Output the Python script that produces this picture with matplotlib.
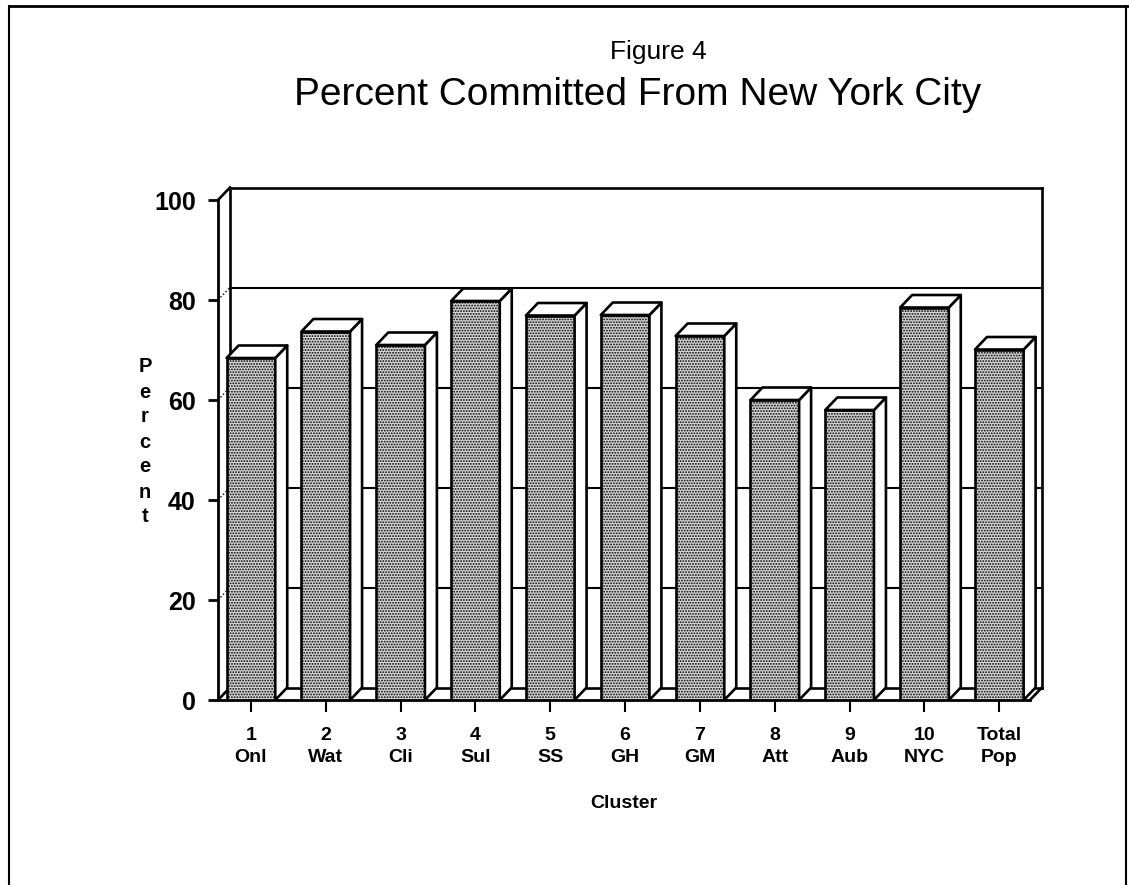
import numpy as np
import matplotlib.pyplot as plt
from matplotlib.patches import Polygon
from matplotlib.lines import Line2D

# datos
nums = ['1', '2', '3', '4', '5', '6', '7', '8', '9', '10', 'Total']
names = ['Onl', 'Wat', 'Cli', 'Sul', 'SS', 'GH', 'GM', 'Att', 'Aub', 'NYC', 'Pop']
vals = [68.4, 73.7, 71.0, 79.8, 76.9, 77.0, 72.8, 60.0, 58.0, 78.5, 70.1]
yticks = [0, 20, 40, 60, 80, 100]

plt.rcParams['font.family'] = ['Liberation Sans', 'DejaVu Sans']
plt.rcParams['hatch.linewidth'] = 0.9

fig = plt.figure(figsize=(11.29, 8.85), dpi=100)
ax = fig.add_axes([218/1129, 185/885, 812/1129, 500/885])

x0, x1 = -0.44, 10.41
ddx, ddy = 0.16, 2.5     # profundidad del efecto 3D
w = 0.65
lw = 1.9

ax.set_xlim(x0, x1)
ax.set_ylim(0, 100)
for s in ['top', 'right']:
    ax.spines[s].set_visible(False)
for s in ['left', 'bottom']:
    ax.spines[s].set_linewidth(2)

# pared de fondo, piso y pared izquierda
k = dict(color='black', lw=lw, clip_on=False, zorder=1)
ax.plot([x0 + ddx, x1 + ddx], [100 + ddy, 100 + ddy], **k)
ax.plot([x1 + ddx, x1 + ddx], [ddy, 100 + ddy], **k)
ax.plot([x0 + ddx, x0 + ddx], [ddy, 100 + ddy], **k)
ax.plot([x0 + ddx, x1 + ddx], [ddy, ddy], **k)
ax.plot([x0, x0 + ddx], [100, 100 + ddy], **k)
ax.plot([x0, x0 + ddx], [0, ddy], **k)
ax.plot([x1, x1 + ddx], [0, ddy], **k)
for v in yticks[1:-1]:
    ax.plot([x0 + ddx, x1 + ddx], [v + ddy, v + ddy], color='black', lw=1.5,
            clip_on=False, zorder=1)
    ax.plot([x0, x0 + ddx], [v, v + ddy], color='black', lw=1, ls=':',
            clip_on=False, zorder=1)

# barras
x = np.arange(len(vals))
ax.bar(x, vals, width=w, color='#d6d6d6', edgecolor='black', hatch='......',
       lw=lw, zorder=3)
for xi, v in zip(x, vals):
    l, r = xi - w/2, xi + w/2
    side = [(r, 0), (r + ddx, ddy), (r + ddx, v + ddy), (r, v)]
    top = [(l, v), (l + ddx, v + ddy), (r + ddx, v + ddy), (r, v)]
    ax.add_patch(Polygon(side, closed=True, fc='white', ec='black', lw=lw,
                         zorder=3, clip_on=False, joinstyle='round'))
    ax.add_patch(Polygon(top, closed=True, fc='white', ec='black', lw=lw,
                         zorder=3, clip_on=False, joinstyle='round'))

ax.set_yticks(yticks)
ax.set_yticklabels([str(t) for t in yticks], fontsize=18, fontweight='bold')
ax.set_xticks(x)
ax.set_xticklabels([a + '\n' + b for a, b in zip(nums, names)], fontsize=14,
                   fontweight='bold', linespacing=1.4)
ax.tick_params(axis='y', direction='out', length=7, width=2, pad=9)
ax.tick_params(axis='x', direction='out', length=8.5, width=1.5, pad=11)

ax.set_ylabel('\n'.join('Percent'), rotation=0, fontsize=14.5, fontweight='bold',
              linespacing=1.4, va='center', ha='center')
ax.yaxis.set_label_coords(-0.09, 0.516)
ax.set_xlabel('Cluster', fontsize=14, fontweight='bold')
ax.xaxis.set_label_coords(0.5, -0.19)

fig.text(658/1129, 1 - 52/885, 'Figure 4', fontsize=19, ha='center', va='center')
fig.text(638/1129, 1 - 95/885, 'Percent Committed From New York City', fontsize=28,
         ha='center', va='center')

# marco de la pagina
fig.add_artist(Line2D([9/1129, 9/1129], [0, 1 - 6/885], color='black', lw=1.5))
fig.add_artist(Line2D([9/1129, 1], [1 - 6/885, 1 - 6/885], color='black', lw=2))
fig.add_artist(Line2D([1126/1129, 1126/1129], [0, 1 - 6/885], color='black', lw=1.5))

plt.savefig('out.png', dpi=100)
